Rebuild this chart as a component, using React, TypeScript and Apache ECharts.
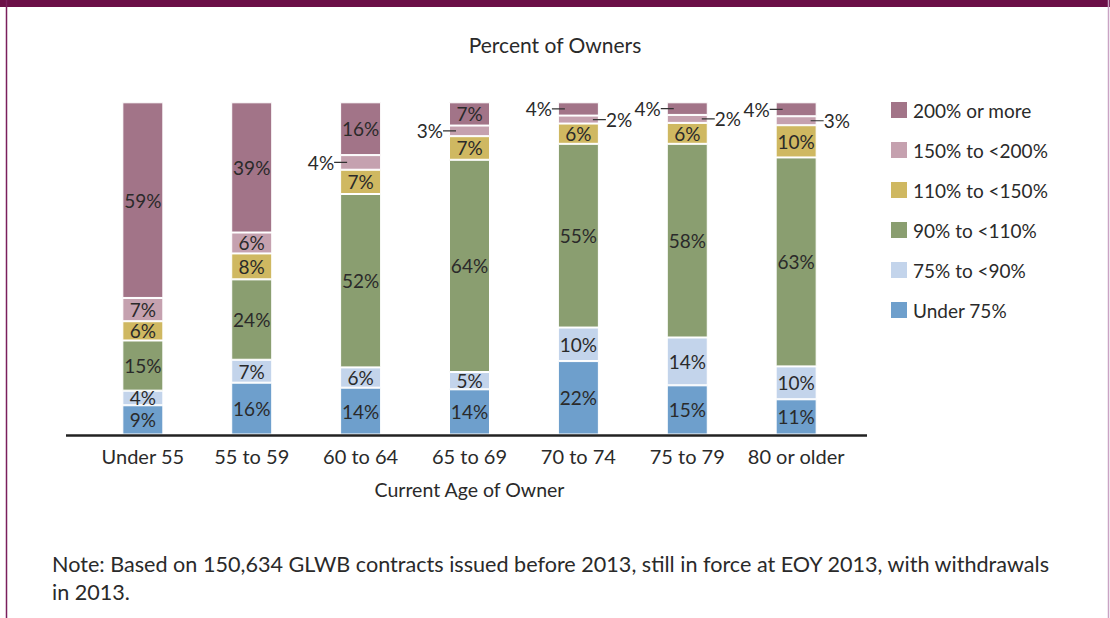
import React, { useEffect, useRef } from "react";
import * as echarts from "echarts";

const categories = ["Under 55", "55 to 59", "60 to 64", "65 to 69", "70 to 74", "75 to 79", "80 or older"];
const under75 = [8.8, 15.6, 14.1, 13.6, 22.1, 14.8, 10.6];
const p75to90 = [4.4, 6.9, 6.1, 5.2, 10.1, 14.4, 9.9];
const p90to110 = [15.1, 24.2, 52.2, 63.9, 55.3, 58.3, 62.9];
const p110to150 = [5.8, 7.8, 7.3, 7.1, 6.1, 6.3, 9.7];
const p150to200 = [7.0, 6.3, 4.4, 3.2, 2.4, 2.4, 2.7];
const p200plus = [58.9, 39.2, 15.9, 7.0, 4.0, 3.8, 4.2];

const seriesNames = ["Under 75%", "75% to <90%", "90% to <110%", "110% to <150%", "150% to <200%", "200% or more"];
const seriesValues = [under75, p75to90, p90to110, p110to150, p150to200, p200plus];
const seriesColors = ["#6e9fcc", "#c3d4eb", "#8a9e70", "#cfb861", "#c5a1af", "#a27488"];
const legendOrder = ["200% or more", "150% to <200%", "110% to <150%", "90% to <110%", "75% to <90%", "Under 75%"];

// labels drawn outside the bar with a short leader line: [series index, category index, side]
const leaderLabels: [number, number, "left" | "right"][] = [
  [4, 2, "left"],
  [4, 3, "left"],
  [4, 4, "right"],
  [4, 5, "right"],
  [4, 6, "right"],
  [5, 4, "left"],
  [5, 5, "left"],
  [5, 6, "left"],
];

const title = "Percent of Owners";
const xName = "Current Age of Owner";
const note = "Note: Based on 150,634 GLWB contracts issued before 2013, still in force at EOY 2013, with withdrawals\nin 2013.";

const FONT = 'Lato, "Liberation Sans", sans-serif';
const TXT = "#2a2a2a";
const BAR_W = 41;

export default function App() {
  const ref = useRef<HTMLDivElement>(null);
  useEffect(() => {
    if (!ref.current) return;
    const chart = echarts.init(ref.current, null, { renderer: "svg" });

    const series = seriesNames.map((name, si) => ({
      name,
      type: "bar",
      stack: "total",
      barWidth: BAR_W,
      itemStyle: { color: seriesColors[si], borderColor: "#ffffff", borderWidth: 1 },
      label: {
        show: true,
        position: "inside",
        fontFamily: FONT,
        fontSize: 19,
        color: TXT,
        formatter: (p: any) => Math.round(p.value) + "%",
      },
      data: seriesValues[si].map((v, ci) => {
        const lead = leaderLabels.find((l) => l[0] === si && l[1] === ci);
        if (!lead) return v;
        const side = lead[2];
        return {
          value: v,
          label: {
            show: true,
            position: side === "left" ? [7, "50%"] : [BAR_W - 6, "50%"],
            align: side === "left" ? "right" : "left",
            verticalAlign: "middle",
            formatter: (p: any) =>
              side === "left"
                ? "{t|" + Math.round(p.value) + "%}{l|}"
                : "{l|}{t|" + Math.round(p.value) + "%}",
            rich: {
              t: { fontFamily: FONT, fontSize: 19, color: TXT },
              l: { width: 13, height: 0, borderColor: "#333333", borderWidth: 1.2 },
            },
          },
        };
      }),
    }));

    chart.setOption({
      animation: false,
      backgroundColor: "#ffffff",
      title: {
        text: title,
        left: "center",
        top: 34,
        padding: 0,
        textStyle: { fontFamily: FONT, fontSize: 21, fontWeight: "normal", color: TXT },
      },
      legend: {
        data: legendOrder,
        orient: "vertical",
        left: 889,
        top: 100,
        padding: 0,
        itemWidth: 18,
        itemHeight: 18,
        itemGap: 20,
        icon: "rect",
        textStyle: { fontFamily: FONT, fontSize: 19, color: TXT },
      },
      grid: { left: 88.4, right: 259.4, top: 102.3, bottom: 183.5 },
      xAxis: {
        type: "category",
        data: categories,
        axisLine: { show: false },
        axisTick: { show: false },
        axisLabel: { fontFamily: FONT, fontSize: 20, color: TXT, margin: 11, interval: 0 },
        name: xName,
        nameLocation: "middle",
        nameGap: 45,
        nameTextStyle: { fontFamily: FONT, fontSize: 19.5, color: TXT },
      },
      yAxis: { type: "value", min: 0, max: 100, show: false },
      series,
      graphic: [
        { type: "rect", shape: { x: 0, y: 0, width: 1110, height: 7 }, style: { fill: "#6b0f47" }, z: 100 },
        { type: "line", shape: { x1: 6.5, y1: 0, x2: 6.5, y2: 618 }, style: { stroke: "#7a1f5c", lineWidth: 1.5 }, z: 100 },
        { type: "line", shape: { x1: 1108.5, y1: 0, x2: 1108.5, y2: 618 }, style: { stroke: "#c9a3c4", lineWidth: 1.5 }, z: 100 },
        { type: "line", shape: { x1: 66, y1: 435.5, x2: 867, y2: 435.5 }, style: { stroke: "#222222", lineWidth: 2.5 }, z: 100 },
        {
          type: "text",
          left: 52,
          top: 550,
          style: { text: note, fontFamily: FONT, fontSize: 21.6, lineHeight: 28, fill: TXT },
        },
      ],
    });
    return () => chart.dispose();
  }, []);
  return <div ref={ref} style={{ position: "fixed", left: 0, top: 0, width: 1110, height: 618 }} />;
}
